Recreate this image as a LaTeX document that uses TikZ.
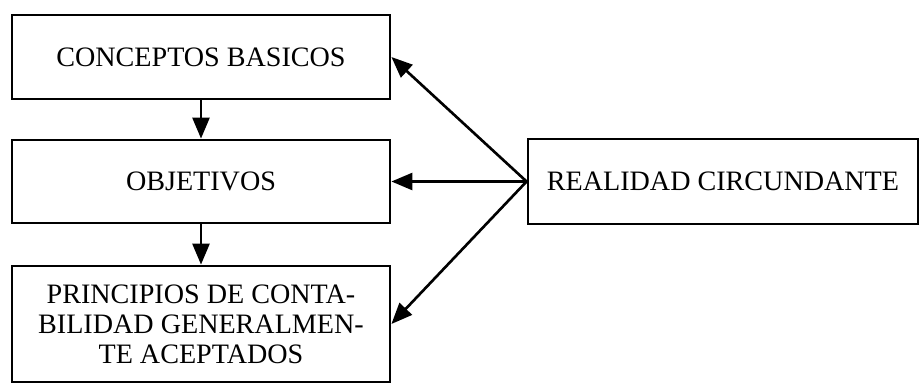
\documentclass[tikz,border=0pt]{standalone}
\usepackage{fontspec}
\setmainfont{Liberation Serif}
\usetikzlibrary{arrows.meta}
\tikzset{
  caja/.style={draw, line width=1.6pt, minimum width=7.56cm, align=center,
    font=\fontsize{16}{17}\selectfont, inner sep=0pt},
  flecha/.style={line width=1.5pt, -{Triangle[length=0.42cm,width=0.34cm]}}
}
\begin{document}
\begin{tikzpicture}
      \useasboundingbox (0,0) rectangle (18.44,-7.68);
      \draw
        (4.02,-1.14) node[caja, minimum height=1.68cm] (conceptos){CONCEPTOS BASICOS}
        (4.02,-3.63) node[caja, minimum height=1.66cm] (objetivos){OBJETIVOS}
        (4.02,-6.48) node[caja, minimum height=2.32cm] (principios){PRINCIPIOS DE CONTA-\\BILIDAD GENERALMEN-\\TE ACEPTADOS}
        (14.46,-3.63) node[caja, minimum width=7.8cm, minimum height=1.7cm] (realidad){REALIDAD CIRCUNDANTE};
      \begin{scope}[flecha]
        \draw (conceptos) to (objetivos);
        \draw (objetivos) to (principios);
        \draw (realidad.west) to (conceptos.east);
        \draw (realidad.west) to (objetivos.east);
        \draw (realidad.west) to (principios.east);
      \end{scope}
    \end{tikzpicture}
\end{document}
